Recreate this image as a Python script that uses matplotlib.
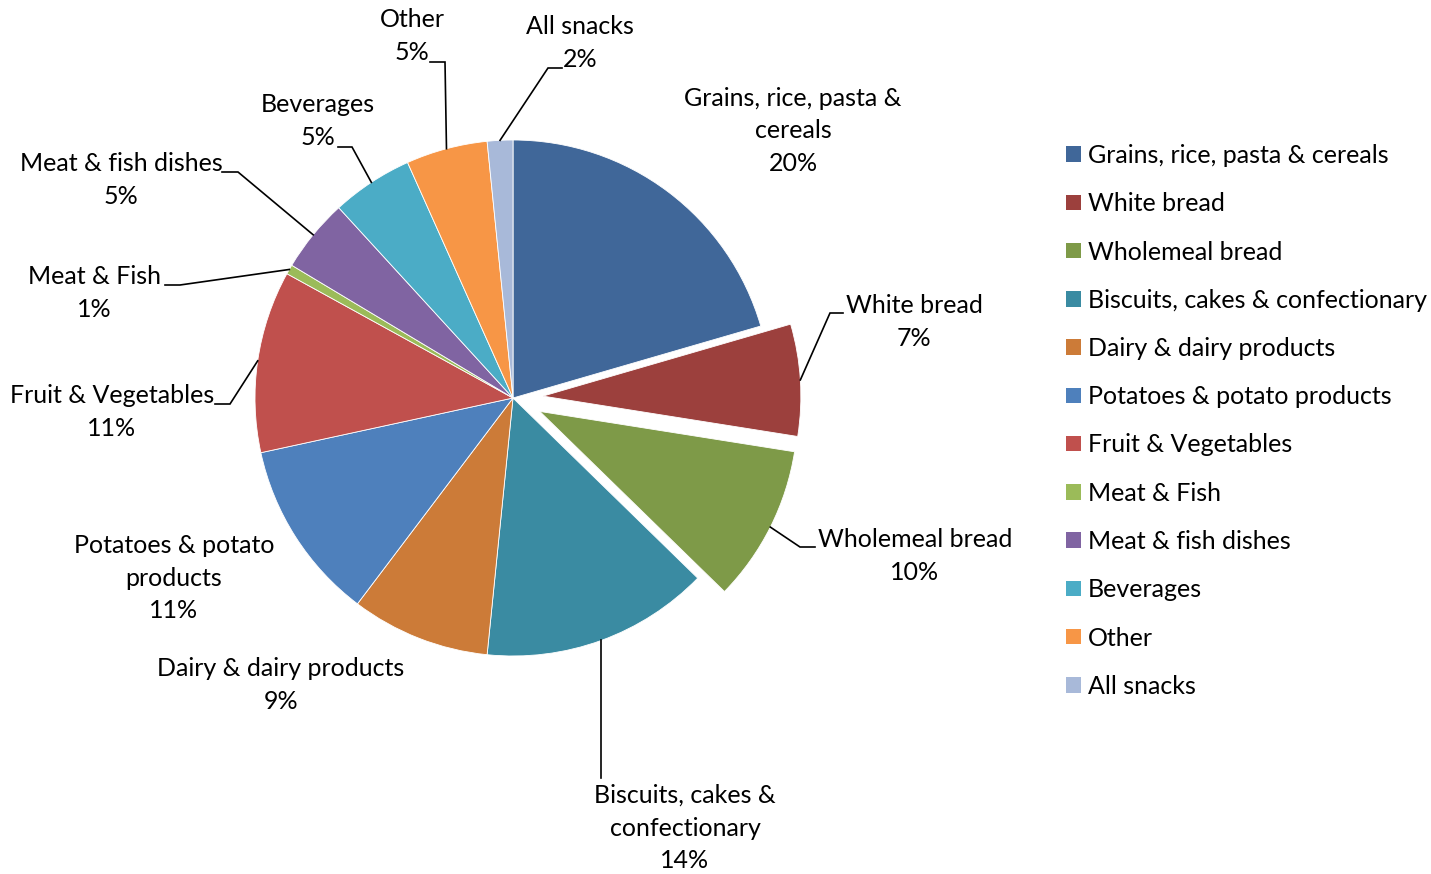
import matplotlib
matplotlib.use("Agg")
import matplotlib.pyplot as plt
from matplotlib.patches import Patch
import numpy as np

categories = ["Grains, rice, pasta & cereals", "White bread", "Wholemeal bread",
              "Biscuits, cakes & confectionary", "Dairy & dairy products",
              "Potatoes & potato products", "Fruit & Vegetables", "Meat & Fish",
              "Meat & fish dishes", "Beverages", "Other", "All snacks"]
values = [20.5, 7.0, 9.8, 14.3, 8.7, 11.3, 11.4, 0.6, 4.6, 5.1, 5.1, 1.6]
pct_labels = ["20%", "7%", "10%", "14%", "9%", "11%", "11%", "1%", "5%", "5%", "5%", "2%"]
slice_labels = ["Grains, rice, pasta &\ncereals", "White bread", "Wholemeal bread",
                "Biscuits, cakes &\nconfectionary", "Dairy & dairy products",
                "Potatoes & potato\nproducts", "Fruit & Vegetables", "Meat & Fish",
                "Meat & fish dishes", "Beverages", "Other", "All snacks"]
explode = [0, 0.116, 0.116, 0, 0, 0, 0, 0, 0, 0, 0, 0]
colors = ["#406799", "#9C403D", "#7E9A48", "#3A8BA2", "#CC7B38", "#4E80BC",
          "#C0504D", "#9BBB59", "#8064A2", "#4BACC6", "#F79646", "#A8B9D9"]

FONT = "Lato"
FS = 18.0
W, H = 1431, 874
fig = plt.figure(figsize=(W / 100, H / 100), dpi=100)
ax = fig.add_axes([0, 0, 1, 1])

cx, cy, R = 513, H - 398, 258
wedges, _ = ax.pie(values, colors=colors, explode=[e * R for e in explode],
                   startangle=90, counterclock=False, center=(cx, cy), radius=R,
                   wedgeprops=dict(edgecolor="white", linewidth=0.6))
ax.set_xlim(0, W)
ax.set_ylim(0, H)
ax.set_aspect("equal")
ax.axis("off")

def P(x, y):
    return x, H - y

# label layout: (text center x, y), elbow, end-of-line point (top-origin pixels)
layout = [
    ((793, 131), None, None),
    ((914, 322), (830, 313), (843, 313)),
    ((915, 556), (800, 547), (815, 547)),
    ((685, 828), None, "down"),
    ((281, 685), None, None),
    ((174, 578), None, None),
    ((112, 412), (230, 404), (215, 404)),
    ((94, 293), (180, 285), (165, 285)),
    ((121, 180), (238, 172), (222, 172)),
    ((318, 121), (352, 147), (338, 147)),
    ((412, 36), (445, 62), (430, 62)),
    ((580, 43), (548, 68), (562, 68)),
]

for w, lab, pct, (tc, elbow, end) in zip(wedges, slice_labels, pct_labels, layout):
    ax.text(*P(*tc), lab + "\n" + pct, ha="center", va="center", fontsize=FS,
            family=FONT, linespacing=1.51, color="black")
    mid = np.deg2rad((w.theta1 + w.theta2) / 2)
    wx, wy = w.center
    ax_pt = (wx + w.r * np.cos(mid), wy + w.r * np.sin(mid))
    if end == "down":
        ax.plot([ax_pt[0], ax_pt[0]], [ax_pt[1], H - 778], color="black", lw=1.2)
    elif elbow is not None:
        ex, ey = P(*elbow)
        nx, ny = P(*end)
        ax.plot([ax_pt[0], ex, nx], [ax_pt[1], ey, ny], color="black", lw=1.2,
                solid_joinstyle="miter")

handles = [Patch(facecolor=c, edgecolor="none") for c in colors]
leg = fig.legend(handles, categories, loc="upper left",
                 bbox_to_anchor=(1066 / W, 1 - 144 / H), frameon=False,
                 prop=dict(family=FONT, size=FS), handlelength=0.58, handleheight=0.58,
                 handletextpad=0.3, labelspacing=1.01, borderaxespad=0, borderpad=0)

fig.savefig("out.png", dpi=100)
